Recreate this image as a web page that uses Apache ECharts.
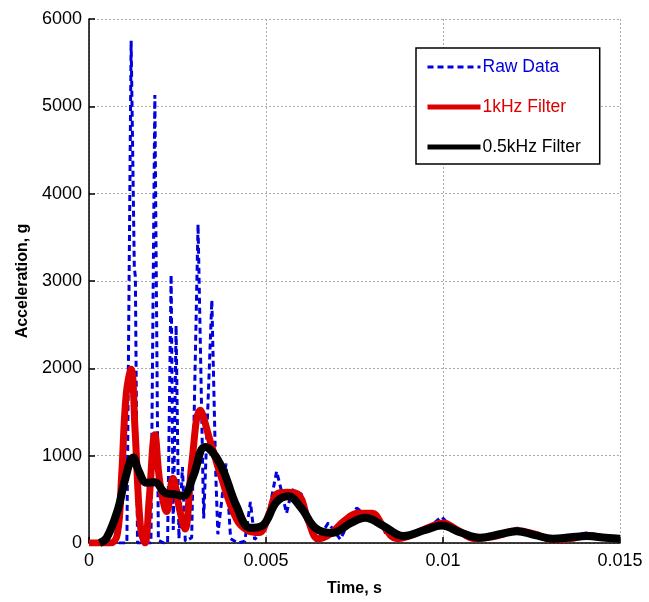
<!DOCTYPE html>
<html>
<head>
<meta charset="utf-8">
<script src="https://cdn.jsdelivr.net/npm/echarts@6/dist/echarts.min.js"></script>
<style>html,body{margin:0;padding:0;background:#fff;}#c{width:649px;height:602px;}</style>
</head>
<body>
<div id="c"></div>
<script>
var seriesNames = ['Raw Data', '1kHz Filter', '0.5kHz Filter'];
var xTicks = [0, 0.005, 0.01, 0.015];
var yTicks = [0, 1000, 2000, 3000, 4000, 5000, 6000];

var rawData = [
  [0, 0], [0.0003, 0], [0.0006, 0], [0.0009, 0], [0.00107, 0],
  [0.00119, 5750], [0.00128, 3150], [0.00131, 3050], [0.00137, 0],
  [0.0015, 0], [0.00175, 0], [0.00186, 5130], [0.00196, 30],
  [0.00212, 0], [0.00222, 0], [0.00232, 3070], [0.00238, 150],
  [0.00246, 2490], [0.00254, 50], [0.00264, 870], [0.00272, 20],
  [0.0029, 60], [0.00308, 3650], [0.00324, 280], [0.00347, 2780],
  [0.00358, 800], [0.00364, 100], [0.00387, 910], [0.004, 50],
  [0.0042, 0], [0.0044, 20], [0.00456, 470], [0.00468, 40],
  [0.005, 190], [0.0053, 820], [0.00541, 640], [0.00558, 340],
  [0.00573, 610], [0.006, 560], [0.0062, 200], [0.00643, 20],
  [0.00676, 230], [0.0071, 40], [0.00742, 310], [0.00756, 400],
  [0.0078, 330], [0.0082, 320], [0.0084, 80], [0.0089, 80],
  [0.0096, 180], [0.00996, 300], [0.0102, 200], [0.0107, 60],
  [0.011, 55], [0.0115, 80], [0.0121, 170], [0.0125, 100],
  [0.0131, 50], [0.01406, 115], [0.0145, 60], [0.015, 45]
];

var filter1k = [
  [0, 0], [0.0006, 0], [0.0008, 100], [0.00092, 760], [0.00105, 1700],
  [0.00119, 1990], [0.0013, 1300], [0.00145, 200], [0.00158, 0],
  [0.0017, 500], [0.00186, 1240], [0.002, 700], [0.0022, 360],
  [0.00237, 740], [0.00255, 400], [0.00271, 160], [0.0029, 900],
  [0.00314, 1520], [0.0034, 1200], [0.0037, 800], [0.00417, 270],
  [0.0045, 140], [0.0048, 120], [0.0051, 350], [0.0053, 560],
  [0.0056, 580], [0.0059, 560], [0.0062, 250], [0.00647, 50],
  [0.0068, 100], [0.0072, 250], [0.0076, 340], [0.008, 340],
  [0.0083, 200], [0.0087, 50], [0.0091, 90], [0.0096, 180],
  [0.01, 230], [0.0104, 150], [0.0109, 50], [0.0114, 70],
  [0.0121, 140], [0.0126, 100], [0.0131, 40], [0.0136, 50],
  [0.0141, 85], [0.0146, 60], [0.015, 50]
];

var filter05k = [
  [0.0003, 0], [0.0005, 60], [0.00082, 390], [0.001, 700], [0.00125, 980],
  [0.0014, 830], [0.00163, 690], [0.00186, 695], [0.00215, 575],
  [0.00243, 557], [0.00266, 540], [0.00294, 760], [0.00328, 1100],
  [0.0037, 910], [0.00417, 420], [0.00455, 175], [0.0049, 200],
  [0.0053, 470], [0.00563, 534], [0.006, 400], [0.0064, 170],
  [0.00686, 115], [0.0074, 230], [0.0078, 290], [0.0083, 200],
  [0.00888, 80], [0.0095, 150], [0.00996, 200], [0.0105, 120],
  [0.01105, 60], [0.0116, 100], [0.01208, 135], [0.0126, 90],
  [0.0131, 50], [0.0136, 65], [0.01406, 80], [0.0146, 60], [0.015, 50]
];

var FONT = '"Liberation Sans", Arial, Helvetica, sans-serif';
var chart = echarts.init(document.getElementById('c'), null, {renderer: 'canvas'});
var gridLine = {show: true, lineStyle: {color: '#aaa', type: [2, 2], width: 1}};
chart.setOption({
  animation: false,
  backgroundColor: '#fff',
  textStyle: {fontFamily: FONT},
  grid: {left: 89, right: 29, top: 19, bottom: 55, containLabel: false},
  legend: {
    orient: 'vertical',
    left: 416, top: 48,
    padding: [10, 19, 8, 9],
    itemGap: 22,
    itemWidth: 53, itemHeight: 18,
    borderColor: '#000', borderWidth: 1.5,
    backgroundColor: '#fff',
    itemStyle: {opacity: 0},
    textStyle: {fontSize: 17.5, fontFamily: FONT, padding: [0, 0, 0, -3]},
    data: [
      {name: seriesNames[0], textStyle: {color: '#0000dd'}, lineStyle: {width: 3, type: [6, 4]}},
      {name: seriesNames[1], textStyle: {color: '#dd0000'}, lineStyle: {width: 5}},
      {name: seriesNames[2], textStyle: {color: '#000'}, lineStyle: {width: 5}}
    ]
  },
  xAxis: {
    type: 'value', min: xTicks[0], max: xTicks[xTicks.length - 1], interval: 0.005,
    name: 'Time, s', nameLocation: 'middle', nameGap: 38,
    nameTextStyle: {fontSize: 16, fontWeight: 'bold', color: '#000', fontFamily: FONT},
    axisLine: {show: true, onZero: false, lineStyle: {color: '#000', width: 1.5}},
    axisTick: {show: true, inside: true, length: 6, lineStyle: {color: '#000', width: 1.5}},
    axisLabel: {fontSize: 18, color: '#000', margin: 9, fontFamily: FONT,
      formatter: function (v) { return String(+v.toFixed(4)); }},
    splitLine: gridLine
  },
  yAxis: {
    type: 'value', min: yTicks[0], max: yTicks[yTicks.length - 1], interval: 1000,
    name: 'Acceleration, g', nameLocation: 'middle', nameGap: 57,
    nameTextStyle: {fontSize: 16, fontWeight: 'bold', color: '#000', fontFamily: FONT},
    axisLine: {show: true, onZero: false, lineStyle: {color: '#000', width: 1.5}},
    axisTick: {show: true, inside: true, length: 6, lineStyle: {color: '#000', width: 1.5}},
    axisLabel: {fontSize: 18, color: '#000', margin: 7, fontFamily: FONT,
      formatter: function (v) { return String(v); }},
    splitLine: gridLine
  },
  series: [
    {name: seriesNames[0], type: 'line', data: rawData, symbol: 'none', clip: true,
      color: '#0000dd', lineStyle: {color: '#0000dd', width: 3, type: [6, 4]}, z: 1},
    {name: seriesNames[1], type: 'line', data: filter1k, symbol: 'none', smooth: 0.4, clip: true,
      color: '#dd0000', lineStyle: {color: '#dd0000', width: 7}, z: 2},
    {name: seriesNames[2], type: 'line', data: filter05k, symbol: 'none', smooth: 0.4, clip: true,
      color: '#000', lineStyle: {color: '#000', width: 8}, z: 3}
  ]
});
</script>
</body>
</html>
